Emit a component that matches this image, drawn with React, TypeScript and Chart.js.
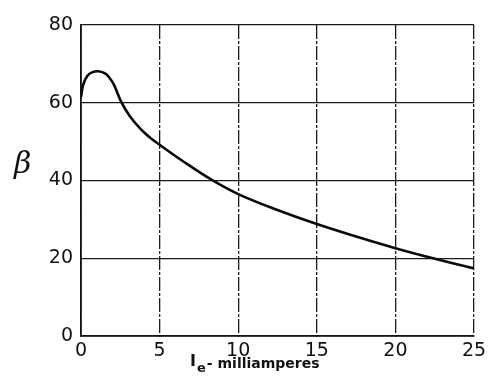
import React, { useEffect, useRef } from "react";
import { Chart, registerables } from "chart.js";

Chart.register(...registerables);

const currentMA = [0, 0.15, 0.4, 0.7, 1.1, 1.5, 1.8, 2.1, 2.55, 3.1, 3.8, 4.4, 5, 6.4, 8.3, 10, 12.5, 15, 17.5, 20, 22.4, 25];
const betaValues = [61.5, 64.8, 66.9, 67.8, 68.1, 67.6, 66.5, 64.6, 60.3, 56.6, 53.2, 51.0, 49.2, 45.2, 40.2, 36.5, 32.4, 28.8, 25.6, 22.6, 20, 17.4];
const xTicks = [0, 5, 10, 15, 20, 25];
const yTicks = [0, 20, 40, 60, 80];
const yLabel = "β";
const xLabelMain = "I";
const xLabelSub = "e";
const xLabelRest = "- milliamperes";

const labelsPlugin = {
  id: "labelsPlugin",
  afterDraw(chart: any) {
    const ctx = chart.ctx;
    const x = chart.scales.x;
    const y = chart.scales.y;
    ctx.save();
    ctx.fillStyle = "#111";
    ctx.font = "italic 30px 'DejaVu Serif'";
    ctx.textBaseline = "alphabetic";
    ctx.textAlign = "left";
    ctx.fillText(yLabel, 14, y.getPixelForValue(40) - 8);
    const baseY = chart.chartArea.bottom + 32;
    let px = x.getPixelForValue(7) - 1;
    ctx.font = "bold 16px 'DejaVu Sans'";
    ctx.fillText(xLabelMain, px, baseY - 2);
    px += ctx.measureText(xLabelMain).width + 1;
    ctx.font = "bold 13px 'DejaVu Sans'";
    ctx.fillText(xLabelSub, px, baseY + 4);
    px += ctx.measureText(xLabelSub).width + 1;
    ctx.font = "bold 14px 'DejaVu Sans'";
    ctx.fillText(xLabelRest, px, baseY);
    ctx.restore();
  },
};

export default function App() {
  const ref = useRef<HTMLCanvasElement>(null);
  useEffect(() => {
    const chart = new Chart(ref.current!, {
      type: "line",
      data: {
        datasets: [
          {
            data: currentMA.map((c, i) => ({ x: c, y: betaValues[i] })),
            borderColor: "#0a0a0a",
            borderWidth: 2.6,
            pointRadius: 0,
            tension: 0.4,
            fill: false,
          },
        ],
      },
      options: {
        animation: false,
        responsive: false,
        maintainAspectRatio: false,
        layout: { padding: { left: 0, top: 25, right: 18, bottom: 0 } },
        plugins: { legend: { display: false }, tooltip: { enabled: false } },
        scales: {
          x: {
            type: "linear",
            min: 0,
            max: 25,
            afterBuildTicks: (s: any) => {
              s.ticks = xTicks.map((v) => ({ value: v }));
            },
            afterFit: (s: any) => {
              s.height = 44;
            },
            ticks: {
              color: "#111",
              font: { family: "'DejaVu Sans'", size: 19 },
              padding: 4,
              maxRotation: 0,
            },
            grid: {
              color: "#1a1a1a",
              lineWidth: 1.3,
              tickLength: 0,
            },
            border: { display: true, color: "#111", width: 1.8, dash: [14, 2, 3, 2] },
          },
          y: {
            type: "linear",
            min: 0,
            max: 80,
            afterBuildTicks: (s: any) => {
              s.ticks = yTicks.map((v) => ({ value: v }));
            },
            afterFit: (s: any) => {
              s.width = 81;
            },
            ticks: {
              color: "#111",
              font: { family: "'DejaVu Sans'", size: 19 },
              padding: 8,
            },
            grid: {
              color: "#1a1a1a",
              lineWidth: 1.3,
              tickLength: 0,
            },
            border: { display: true, color: "#111", width: 1.8 },
          },
        },
      },
      plugins: [labelsPlugin],
    });
    return () => chart.destroy();
  }, []);
  return (
    <div style={{ position: "fixed", left: 0, top: 0, width: 492, height: 380, background: "#fff" }}>
      <canvas ref={ref} width={492} height={380} style={{ display: "block" }} />
    </div>
  );
}
